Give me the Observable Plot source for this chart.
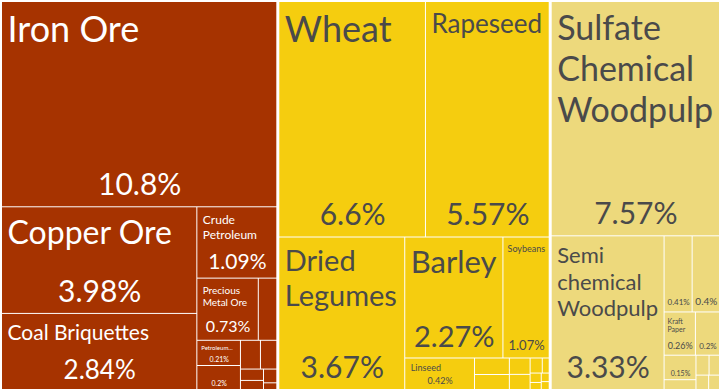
<!DOCTYPE html>
<html>
<head>
<meta charset="utf-8">
<script src="https://cdn.jsdelivr.net/npm/d3@7"></script>
<script src="https://cdn.jsdelivr.net/npm/@observablehq/plot@0.6"></script>
<style>
  html, body { margin: 0; padding: 0; background: #fff; }
  #chart svg { display: block; }
</style>
</head>
<body>
<div id="chart"></div>
<script>
// ---- Data (share of exports, %) ----
const groups = ["Minerals", "Vegetable Products", "Paper Goods"];

// null = cell without a readable label in the reference
const mineralNames  = ["Iron Ore", "Copper Ore", "Coal Briquettes", "Crude Petroleum", "Precious Metal Ore", null, "Petroleum...", null, null, null, null, null, null, null];
const mineralShares = [10.8, 3.98, 2.84, 1.09, 0.73, 0.22, 0.21, 0.2, 0.11, 0.09, 0.05, 0.04, 0.035, 0.017];

const vegetableNames  = ["Wheat", "Rapeseed", "Dried Legumes", "Barley", "Soybeans", "Linseed", null, null, null, null, null, null, null, null, null, null];
const vegetableShares = [6.6, 5.57, 3.67, 2.27, 1.07, 0.42, 0.11, 0.1, 0.065, 0.06, 0.035, 0.02, 0.02, 0.015, 0.013, 0.012];

const paperNames  = ["Sulfate Chemical Woodpulp", "Semi chemical Woodpulp", null, null, "Kraft Paper", "Other...", null, null, null, null, null, null];
const paperShares = [7.57, 3.33, 0.41, 0.4, 0.26, 0.2, 0.15, 0.06, 0.05, 0.04, 0.035, 0.03];

// ---- Styling ----
const groupColors = ["#A63300", "#F5CD0F", "#EDD97C"];
const lightText = new Set(["Minerals"]);
const W = 721, H = 391;
const FONT = "Lato, 'Source Sans Pro', 'Open Sans', sans-serif";

const allNames = [mineralNames, vegetableNames, paperNames];
const allShares = [mineralShares, vegetableShares, paperShares];

const root = d3.hierarchy({
  children: groups.map((g, i) => ({
    name: g,
    children: allNames[i].map((n, j) => ({name: n, share: allShares[i][j], group: g}))
  }))
}).sum(d => d.share || 0).sort((a, b) => b.value - a.value);

const topTile = d3.treemapSquarify.ratio(1);
const innerTile = d3.treemapSquarify;
d3.treemap()
  .tile((node, x0, y0, x1, y1) => (node.depth === 0 ? topTile : innerTile)(node, x0, y0, x1, y1))
  .size([W, H]).padding(1)(root);
const leaves = root.leaves();

// ---- Text fitting (d3plus-like) ----
const ctx = document.createElement("canvas").getContext("2d");
function measure(s, fs) { ctx.font = `${fs}px ${FONT}`; return ctx.measureText(s).width; }
function wrap(words, fs, w) {
  const lines = [];
  let cur = "";
  for (const wd of words) {
    if (measure(wd, fs) > w) return null;
    const cand = cur ? cur + " " + wd : wd;
    if (measure(cand, fs) <= w) cur = cand;
    else { lines.push(cur); cur = wd; }
  }
  if (cur) lines.push(cur);
  return lines;
}
const LH = 1.2;
function fitText(text, w, h, fmax, fmin) {
  if (w <= 0 || h <= 0) return null;
  const words = text.split(/\s+/);
  let fs = fmax;
  const sizes = words.map(wd => measure(wd, fs));
  const areaMod = 1.165 + (w / h) * 0.1;
  const textArea = d3.sum(sizes) * fs * LH * areaMod;
  const maxW = d3.max(sizes);
  if (maxW > w || textArea > w * h) {
    fs = Math.floor(fs * Math.min(Math.sqrt((w * h) / textArea), w / maxW));
  }
  fs = Math.min(fs, Math.floor(h * 0.8));
  while (fs >= fmin) {
    const lines = wrap(words, fs, w);
    if (lines && lines.length * fs * LH <= h + 0.01) return {fs, lines};
    fs--;
  }
  return null;
}

const fmtShare = v => d3.format(".3~r")(v) + "%";
const titleItems = [], shareItems = [];
for (const leaf of leaves) {
  const {x0, y0, x1, y1} = leaf;
  const w = x1 - x0, h = y1 - y0;
  const padX = Math.min(5, w * 0.08), padY = Math.min(5, h * 0.1);
  const iw = w - 2 * padX, ih = h - 2 * padY;
  const band = Math.min(44, ih * 0.5);
  const light = lightText.has(leaf.data.group);
  const sh = fitText(fmtShare(leaf.data.share), iw, band, 30, 7);
  if (sh) {
    const lh = sh.fs * LH;
    shareItems.push({x: (x0 + x1) / 2, y: y1 - padY - (lh - sh.fs) / 2 - 0.12 * sh.fs, text: sh.lines[0], fs: sh.fs, light});
  }
  if (leaf.data.name) {
    const t = fitText(leaf.data.name, iw, ih - band, 36, 6);
    if (t) {
      const lh = t.fs * LH;
      t.lines.forEach((line, i) => {
        titleItems.push({x: x0 + padX, y: y0 + padY + i * lh + (lh - t.fs) / 2 + 0.87 * t.fs, text: line, fs: t.fs, light});
      });
    }
  }
}

const textMarks = (items, anchor) => [
  Plot.text(items, {filter: d => d.light, x: "x", y: "y", text: "text", fontSize: "fs", fill: "white", textAnchor: anchor, lineAnchor: "bottom"}),
  Plot.text(items, {filter: d => !d.light, x: "x", y: "y", text: "text", fontSize: "fs", fill: "#4a4a4a", textAnchor: anchor, lineAnchor: "bottom"})
];

const chart = Plot.plot({
  width: W,
  height: H,
  margin: 0,
  style: {background: "white", fontFamily: FONT},
  x: {domain: [0, W], range: [0, W], axis: null},
  y: {domain: [0, H], range: [0, H], axis: null},
  color: {domain: groups, range: groupColors},
  marks: [
    Plot.rect(leaves, {x1: d => d.x0, x2: d => d.x1, y1: d => d.y0, y2: d => d.y1, fill: d => d.data.group}),
    ...textMarks(titleItems, "start"),
    ...textMarks(shareItems, "middle")
  ]
});
document.getElementById("chart").appendChild(chart);
</script>
</body>
</html>
